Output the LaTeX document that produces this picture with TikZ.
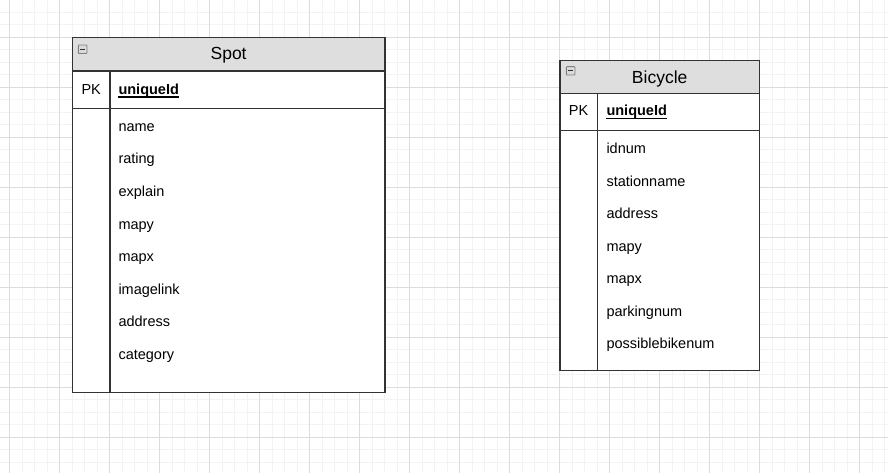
\documentclass[tikz,border=0pt]{standalone}
\usepackage{fontspec}
\setmainfont{Liberation Sans}
\definecolor{gridminor}{HTML}{F3F3F3}
\definecolor{gridmajor}{HTML}{DCDCDC}
\definecolor{headfill}{HTML}{DEDEDE}
\tikzset{
  title/.style={font=\fontsize{17.5}{20}\selectfont, inner sep=0pt, anchor=base},
  pk/.style={font=\fontsize{14.5}{17}\selectfont, inner sep=0pt, anchor=base},
  key/.style={font=\fontsize{14.5}{17}\selectfont\bfseries, inner sep=0pt, anchor=base west},
  field/.style={font=\fontsize{14.5}{17}\selectfont, inner sep=0pt, anchor=base west},
  tbl/.style={draw=black!80, line width=1.2pt},
  icon/.style={draw=gray, fill=gray!30, line width=0.9pt, rounded corners=0.8pt},
}
\begin{document}
\begin{tikzpicture}[x=1pt,y=-1pt]
    \useasboundingbox (0,0) rectangle (888,473);
    % grid
    \foreach \gx in {9.5,22,...,888} \draw[gridminor, line width=1pt] (\gx,0) -- (\gx,473);
    \foreach \gy in {12.3,24.8,...,473} \draw[gridminor, line width=1pt] (0,\gy) -- (888,\gy);
    \foreach \gx in {9.5,59.5,...,888} \draw[gridmajor, line width=1pt] (\gx,0) -- (\gx,473);
    \foreach \gy in {37.3,87.3,...,473} \draw[gridmajor, line width=1pt] (0,\gy) -- (888,\gy);

    % Spot
    \draw[tbl, fill=headfill] (72.3,37.7) rectangle (385,71);
    \draw[tbl, fill=white] (72.3,71) rectangle (385,392.7);
    \draw[tbl] (72.3,108.3) -- (385,108.3) (110,71) -- (110,392.7);
    \draw[icon] (78.3,45) rectangle (87,53.5);
    \draw[line width=1.2pt, black!80] (80.3,49.3) -- (85,49.3);
    \node[title] (spot-title) at (228.6,60) {Spot};
    \node[pk] (spot-pk) at (91.2,94.3) {PK};
    \node[key] (spot-key) at (118.3,94.3) {uniqueId};
    \draw[line width=1.3pt] ([yshift=-2.8pt]spot-key.base west) -- ([yshift=-2.8pt]spot-key.base east);
    \foreach \fname [count=\i] in {name,rating,explain,mapy,mapx,imagelink,address,category}
      \node[field] (spot-f\i) at (118.3,131.5+32.5*\i-32.5) {\fname};

    % Bicycle
    \draw[tbl, fill=headfill] (560,60.7) rectangle (759.3,93.3);
    \draw[tbl, fill=white] (560,93.3) rectangle (759.3,370.7);
    \draw[tbl] (560,130.7) -- (759.3,130.7) (597.3,93.3) -- (597.3,370.7);
    \draw[icon] (566.3,66.7) rectangle (575,75);
    \draw[line width=1.2pt, black!80] (568.3,70.9) -- (573,70.9);
    \node[title] (bike-title) at (659.7,83.3) {Bicycle};
    \node[pk] (bike-pk) at (578.6,115.5) {PK};
    \node[key] (bike-key) at (606.3,115.5) {uniqueId};
    \draw[line width=1.3pt] ([yshift=-2.8pt]bike-key.base west) -- ([yshift=-2.8pt]bike-key.base east);
    \foreach \fname [count=\i] in {idnum,stationname,address,mapy,mapx,parkingnum,possiblebikenum}
      \node[field] (bike-f\i) at (606.3,153.9+32.5*\i-32.5) {\fname};
\end{tikzpicture}
\end{document}
